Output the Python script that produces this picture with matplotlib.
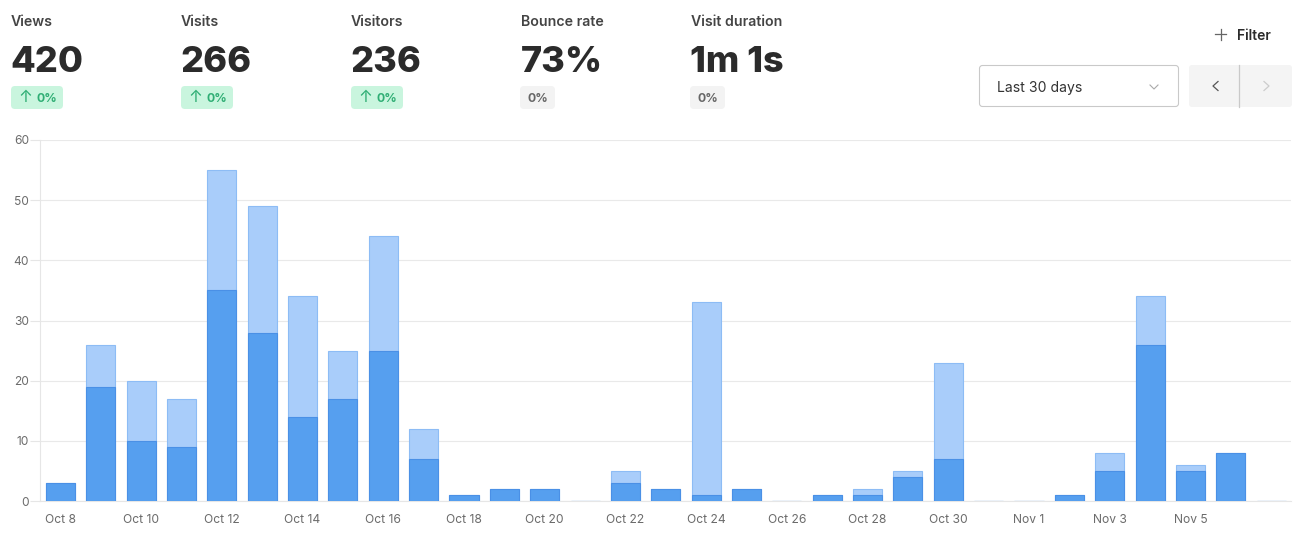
import matplotlib
matplotlib.use("Agg")
import matplotlib.pyplot as plt
from matplotlib.patches import FancyBboxPatch
import numpy as np

plt.rcParams["font.family"] = ["Inter", "DejaVu Sans"]

days = [
    "Oct 8", "Oct 9", "Oct 10", "Oct 11", "Oct 12", "Oct 13", "Oct 14", "Oct 15",
    "Oct 16", "Oct 17", "Oct 18", "Oct 19", "Oct 20", "Oct 21", "Oct 22", "Oct 23",
    "Oct 24", "Oct 25", "Oct 26", "Oct 27", "Oct 28", "Oct 29", "Oct 30", "Oct 31",
    "Nov 1", "Nov 2", "Nov 3", "Nov 4", "Nov 5", "Nov 6", "Nov 7",
]
visitors = [3, 19, 10, 9, 35, 28, 14, 17, 25, 7, 1, 2, 2, 0, 3, 2, 1, 2, 0, 1, 1, 4, 7, 0, 0, 1, 5, 26, 5, 8, 0]
views = [3, 26, 20, 17, 55, 49, 34, 25, 44, 12, 1, 2, 2, 0, 5, 2, 33, 2, 0, 1, 2, 5, 23, 0, 0, 1, 8, 34, 6, 8, 0]

stat_names = ["Views", "Visits", "Visitors", "Bounce rate", "Visit duration"]
stat_values = ["420", "266", "236", "73%", "1m 1s"]
stat_changes = ["0%", "0%", "0%", "0%", "0%"]
stat_up = [True, True, True, False, False]
y_ticks = [0, 10, 20, 30, 40, 50, 60]

W, H = 1301, 535
fig = plt.figure(figsize=(W / 100, H / 100), dpi=100, facecolor="white")

# chart area, pixel box
left, right, top, bottom = 40.3, 1291.3, 140.0, 501.0
ax = fig.add_axes([left / W, 1 - bottom / H, (right - left) / W, (bottom - top) / H])
x = np.arange(len(days))
ax.bar(x, views, width=0.72, color="#a9cdfa", edgecolor="#8dbcf5", linewidth=0.8, zorder=2)
ax.bar(x, visitors, width=0.72, color="#569fef", edgecolor="#4a90e6", linewidth=0.8, zorder=3)
ax.set_xlim(-0.5, len(days) - 0.5)
ax.set_ylim(0, 60)
ax.set_yticks(y_ticks)
# the last day has no label in the reference
ax.set_xticks(x[:-1:2], days[:-1:2])
ax.grid(axis="y", color="#e9e9e9", linewidth=0.8, zorder=0)
ax.set_axisbelow(True)
for side in ["top", "right"]:
    ax.spines[side].set_visible(False)
for side in ["left", "bottom"]:
    ax.spines[side].set_color("#e6e6e6")
    ax.spines[side].set_linewidth(0.8)
ax.tick_params(axis="y", length=7, width=0.8, color="#e6e6e6", labelcolor="#6b6b6b", labelsize=8.6, pad=1)
ax.tick_params(axis="x", length=0, labelcolor="#6b6b6b", labelsize=8.7, pad=9.5)

# header widgets, drawn in pixel coordinates
ui = fig.add_axes([0, 0, 1, 1], zorder=5)
ui.set_xlim(0, W)
ui.set_ylim(H, 0)
ui.axis("off")


def rounded(x0, y0, w, h, face, edge="none", r=4, lw=0.8):
    ui.add_patch(FancyBboxPatch((x0 + r, y0 + r), w - 2 * r, h - 2 * r,
                                boxstyle=f"round,pad={r}", facecolor=face,
                                edgecolor=edge, linewidth=lw))


for i, name in enumerate(stat_names):
    x0 = 11 + 170 * i
    ui.text(x0, 22.5, name, fontsize=10.2, fontweight="semibold", color="#444444", va="center")
    ui.text(x0 - 0.5, 62.5, stat_values[i], fontsize=26, fontweight=800, color="#2b2b2b", va="center")
    if stat_up[i]:
        rounded(x0, 86, 52, 23, "#c9f5de")
        ui.text(x0 + 14, 98, "↑", fontsize=12, color="#2fae74", ha="center", va="center")
        ui.text(x0 + 25.5, 98.5, stat_changes[i], fontsize=8.8, fontweight="bold", color="#2fae74", va="center")
    else:
        rounded(x0 - 1, 86, 35, 23, "#f3f3f3")
        ui.text(x0 + 16.5, 98.5, stat_changes[i], fontsize=8.8, fontweight="bold", color="#666666", ha="center", va="center")

# filter button
ui.plot([1215, 1226], [34, 34], color="#666666", lw=0.9)
ui.plot([1220.5, 1220.5], [28.5, 39.5], color="#666666", lw=0.9)
ui.text(1237, 36, "Filter", fontsize=10, fontweight="semibold", color="#2b2b2b", va="center")

# date range dropdown
rounded(979.5, 65.5, 199, 41, "white", edge="#c9c9c9", r=3)
ui.text(997, 88, "Last 30 days", fontsize=10.1, color="#333333", va="center")
ui.plot([1150, 1154, 1158], [85, 89, 85], color="#aaaaaa", lw=0.8)

# prev / next buttons
rounded(1189, 65, 103, 42, "#f4f4f4", r=3)
ui.plot([1239, 1239], [65, 107], color="#c9c9c9", lw=0.9)
ui.plot([1218, 1213, 1218], [81.5, 86, 90.5], color="#555555", lw=0.9)
ui.plot([1264, 1269, 1264], [81.5, 86, 90.5], color="#cccccc", lw=0.9)

fig.savefig("out.png", dpi=100)
